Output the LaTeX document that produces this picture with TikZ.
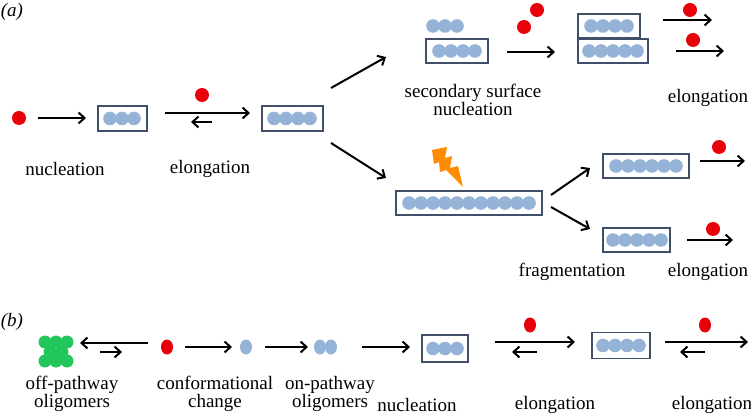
\documentclass[tikz,border=0pt]{standalone}
\usepackage{fontspec}
\setmainfont{Liberation Serif}
\usetikzlibrary{arrows.meta}
\begin{document}
\begin{tikzpicture}[x=1pt,y=-1pt,
 ar/.style={-{Straight Barb[length=6pt,width=11pt]},line width=2pt},
 bk/.style={{Straight Barb[length=6pt,width=11pt]}-,line width=2pt},
 bx/.style={draw=bd,line width=1.3pt,fill=white},
 lb/.style={font=\fontsize{19}{21}\selectfont,align=center}]
\definecolor{bc}{HTML}{95B3D7}
\definecolor{gc}{HTML}{22C65A}
\definecolor{rc}{HTML}{E8000B}
\definecolor{bd}{HTML}{3F5068}
\useasboundingbox (0,0) rectangle (751,419);
\newcommand\bead[3]{\foreach \k in {1,...,#3}{\fill[bc] ({#1+(\k-1)*12},#2) circle (6.8);}}
\newcommand\rd[2]{\fill[rc] (#1,#2) circle (7);}
\node[lb,font=\fontsize{19}{21}\selectfont\itshape] (la) at (12,12) {(\textit{a})};
% row a
\rd{19}{118}
\coordinate (a1) at (38,118); \coordinate (a2) at (86,118);
\draw[ar] (a1)--(a2);
\node[bx,minimum width=49,minimum height=25,inner sep=0] (b1) at (122.5,118.5) {}; \bead{110}{118.5}{3}
\coordinate (e1) at (165,113); \coordinate (e2) at (250,113); \draw[ar] (e1)--(e2);
\coordinate (f1) at (191,122); \coordinate (f2) at (212,122); \draw[bk] (f1)--(f2);
\rd{202}{95}
\node[bx,minimum width=61,minimum height=25,inner sep=0] (b2) at (292.5,118.5) {}; \bead{274}{118.5}{4}
\node[lb] (n1) at (65,169) {nucleation};
\node[lb] (n2) at (210,169) {elongation};
\coordinate (d1) at (331,88); \coordinate (d2) at (386,57); \draw[ar] (d1)--(d2);
\coordinate (d3) at (331,143); \coordinate (d4) at (386,178); \draw[ar] (d3)--(d4);
% secondary
\bead{433}{26}{3}
\node[bx,minimum width=62,minimum height=24,inner sep=0] (b3) at (457,51) {}; \bead{439}{51}{4}
\rd{537}{10} \rd{524}{27}
\coordinate (s1) at (507,52); \coordinate (s2) at (555,52); \draw[ar] (s1)--(s2);
\node[bx,minimum width=62,minimum height=24,inner sep=0] (b4) at (609,26) {}; \bead{591}{26}{4}
\node[bx,minimum width=70,minimum height=24,inner sep=0] (b5) at (613,51) {}; \bead{589}{51}{5}
\coordinate (t1) at (663,20); \coordinate (t2) at (712,20); \draw[ar] (t1)--(t2); \rd{690}{10}
\coordinate (t3) at (676,51); \coordinate (t4) at (724,51); \draw[ar] (t3)--(t4); \rd{693}{40}
\node[lb] (n3) at (473,100) {secondary surface\\[-3pt]nucleation};
\node[lb] (n4) at (708,98) {elongation};
% fragmentation
\fill[orange!90!yellow] (432,150) -- (447,147) -- (445,158) -- (452,156) -- (450,168) -- (458,166) -- (463,187) -- (446,170) -- (440,172) -- (439,162) -- (434,164) -- cycle;
\node[bx,minimum width=146,minimum height=24,inner sep=0] (b6) at (469,203) {}; \bead{409}{203}{11}
\coordinate (g0) at (551,195); \coordinate (g1) at (590,168); \draw[ar] (g0)--(g1);
\coordinate (g2) at (551,207); \coordinate (g3) at (590,229); \draw[ar] (g2)--(g3);
\node[bx,minimum width=86,minimum height=24,inner sep=0] (b7) at (646,166) {}; \bead{616}{166}{6}
\node[bx,minimum width=67,minimum height=24,inner sep=0] (b8) at (636.5,240) {}; \bead{613}{240}{5}
\coordinate (h1) at (700,161); \coordinate (h2) at (745,161); \draw[ar] (h1)--(h2); \rd{719}{147}
\coordinate (h3) at (687,240); \coordinate (h4) at (733,240); \draw[ar] (h3)--(h4); \rd{713}{229}
\node[lb] (n5) at (572,272) {fragmentation};
\node[lb] (n6) at (708,272) {elongation};
% row b
\node[lb,font=\fontsize{19}{21}\selectfont\itshape] (lbb) at (12,322) {(\textit{b})};
\foreach \p in {(45,342),(56,342),(67,342),(50,352),(62,352),(45,361),(56,361),(67,361)}{\fill[gc] \p circle (6.5);}
\coordinate (o1) at (148,343); \coordinate (o2) at (80,343); \draw[ar] (o1)--(o2);
\coordinate (o3) at (100,352); \coordinate (o4) at (122,352); \draw[ar] (o3)--(o4);
\fill[rc] (167,347) ellipse (6 and 7.5);
\coordinate (p1) at (185,347); \coordinate (p2) at (232,347); \draw[ar] (p1)--(p2);
\fill[bc] (246,347) ellipse (6 and 7.5);
\coordinate (q1) at (265,347); \coordinate (q2) at (308,347); \draw[ar] (q1)--(q2);
\fill[bc] (320,347) ellipse (6 and 7.5); \fill[bc] (331,347) ellipse (6 and 7.5);
\coordinate (r1) at (362,347); \coordinate (r2) at (410,347); \draw[ar] (r1)--(r2);
\node[bx,minimum width=46,minimum height=27,inner sep=0] (b9) at (445,348.5) {}; \bead{433}{348.5}{3}
\coordinate (u1) at (495,342); \coordinate (u2) at (575,342); \draw[ar] (u1)--(u2);
\coordinate (u3) at (512,352); \coordinate (u4) at (537,352); \draw[bk] (u3)--(u4);
\fill[rc] (530,325) ellipse (6 and 7.5);
\node[bx,minimum width=58,minimum height=26,inner sep=0] (b10) at (621,345.5) {}; \bead{603}{345.5}{4}
\coordinate (w1) at (665,342); \coordinate (w2) at (748,342); \draw[ar] (w1)--(w2);
\coordinate (w3) at (680,352); \coordinate (w4) at (705,352); \draw[bk] (w3)--(w4);
\fill[rc] (705,325) ellipse (6 and 7.5);
\node[lb] (m1) at (72,394) {off-pathway\\[-3pt]oligomers};
\node[lb] (m2) at (215,394) {conformational\\[-3pt]change};
\node[lb] (m3) at (330,394) {on-pathway\\[-3pt]oligomers};
\node[lb] (m4) at (417,405) {nucleation};
\node[lb] (m5) at (555,405) {elongation};
\node[lb] (m6) at (712,405) {elongation};
\end{tikzpicture}
\end{document}
